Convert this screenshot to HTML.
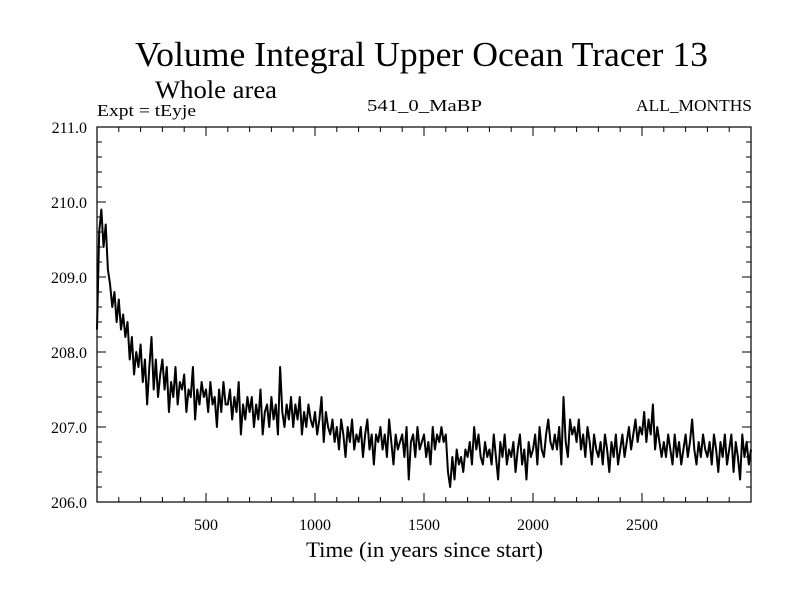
<!DOCTYPE html>
<html><head><meta charset="utf-8"><style>
body{margin:0;background:#fff}
svg{display:block;font-family:"Liberation Serif",serif}
</style></head><body>
<svg id="chart" width="800" height="600" viewBox="0 0 800 600">
<rect width="800" height="600" fill="#fff"/>
<text x="135" y="66" font-size="35" textLength="573" lengthAdjust="spacingAndGlyphs">Volume Integral Upper Ocean Tracer 13</text>
<text x="155" y="98" font-size="25" textLength="122" lengthAdjust="spacingAndGlyphs">Whole area</text>
<text x="97" y="116" font-size="17" textLength="99" lengthAdjust="spacingAndGlyphs">Expt = tEyje</text>
<text x="367" y="111" font-size="17" textLength="115" lengthAdjust="spacingAndGlyphs">541_0_MaBP</text>
<text x="636" y="111" font-size="17" textLength="116" lengthAdjust="spacingAndGlyphs">ALL_MONTHS</text>
<g id="axes"></g>
<path id="series" fill="none" stroke="#000" stroke-width="2" stroke-linejoin="round"/>
<rect x="97" y="127" width="654" height="375" fill="none" stroke="#000" stroke-width="1.2"/>
<text x="306" y="557" font-size="22" textLength="237" lengthAdjust="spacingAndGlyphs">Time (in years since start)</text>
</svg>
<script>
const xTicks=[500,1000,1500,2000,2500];
const yTicks=[206,207,208,209,210,211];
const yTickLabels=["206.0","207.0","208.0","209.0","210.0","211.0"];
const years=[];
const values=[
208.3,209.6,209.9,209.4,209.7,209.1,208.9,208.6,208.8,208.4,
208.7,208.3,208.5,208.2,208.4,207.9,208.2,207.7,208.0,207.8,
208.1,207.6,207.9,207.3,207.8,208.2,207.5,207.9,207.4,207.7,
207.9,207.5,207.8,207.2,207.6,207.4,207.8,207.3,207.6,207.5,
207.7,207.2,207.5,207.4,207.8,207.1,207.5,207.3,207.6,207.4,
207.5,207.2,207.6,207.3,207.4,207.0,207.5,207.2,207.6,207.3,
207.3,207.5,207.1,207.4,207.2,207.6,206.9,207.3,207.1,207.4,
207.2,207.4,207.0,207.3,207.1,207.5,206.9,207.2,207.3,207.0,
207.4,207.1,207.3,206.9,207.8,207.2,207.0,207.3,207.1,207.4,
207.0,207.3,207.1,207.4,206.9,207.2,207.0,207.3,207.1,207.0,
207.2,206.9,207.1,207.4,206.8,207.2,207.0,206.9,207.1,206.8,
207.0,206.7,207.1,206.9,206.6,207.0,206.8,207.1,206.7,206.9,
206.8,207.0,206.6,206.9,207.1,206.7,206.9,206.5,206.9,206.8,
207.0,206.7,206.9,206.6,207.1,206.8,206.5,206.9,206.7,206.8,
206.9,206.6,207.0,206.3,206.8,206.9,206.6,207.0,206.7,206.8,
206.9,206.6,206.8,206.5,207.0,206.7,206.9,206.8,207.0,206.8,
206.9,206.4,206.2,206.6,206.3,206.7,206.5,206.6,206.4,206.7,
206.6,206.8,206.5,207.0,206.7,206.9,206.6,206.5,206.8,206.6,
206.7,206.5,206.9,206.6,206.3,206.8,206.6,206.9,206.5,206.7,
206.6,206.8,206.4,206.7,206.9,206.5,206.7,206.3,206.8,206.6,
206.7,206.9,206.5,207.0,206.7,206.6,206.9,207.1,206.8,206.7,
206.9,206.7,207.0,206.5,207.4,206.8,206.6,207.1,206.9,207.0,
206.8,207.1,206.7,206.9,206.6,207.0,206.8,206.5,206.9,206.7,
206.6,206.8,206.5,206.9,206.7,206.4,206.8,206.6,206.9,206.5,
206.7,206.9,206.6,206.8,207.0,206.7,206.9,207.1,206.8,207.0,
206.9,207.2,206.8,207.1,206.9,207.3,206.7,207.0,206.8,206.6,
206.8,206.6,206.9,206.7,206.5,206.9,206.6,206.8,206.5,206.7,
206.9,206.6,206.8,207.1,206.7,206.5,206.8,206.6,206.9,206.7,
206.6,206.8,206.5,206.9,206.7,206.4,206.8,206.6,206.9,206.5,
206.7,206.9,206.4,206.8,206.6,206.3,206.9,206.6,206.8,206.5,
206.7];
for(let i=0;i<values.length;i++)years.push(i*10);
const L=97,R=751,T=127,B=502,X0=0,X1=3000,Y0=206,Y1=211;
const xs=v=>L+(v-X0)/(X1-X0)*(R-L);
const ys=v=>B-(v-Y0)/(Y1-Y0)*(B-T);
const NS="http://www.w3.org/2000/svg";
const ax=document.getElementById('axes');
function line(x1,y1,x2,y2,name){const l=document.createElementNS(NS,'line');
l.setAttribute('x1',x1);l.setAttribute('y1',y1);l.setAttribute('x2',x2);l.setAttribute('y2',y2);
l.setAttribute('stroke','#000');l.setAttribute('stroke-width','1');


ax.appendChild(l);}
function txt(x,y,s,anchor,name){const t=document.createElementNS(NS,'text');
t.setAttribute('x',x);t.setAttribute('y',y);t.setAttribute('font-size','16');t.setAttribute('text-anchor',anchor);t.textContent=s;


ax.appendChild(t);}
for(let v=100;v<X1;v+=100){const x=xs(v);const major=v%500===0;const len=major?9:5;
line(x,B,x,B-len,'x-tick');line(x,T,x,T+len,'x-tick-top');}
for(let v=Y0;v<=Y1+1e-9;v+=0.2){const y=ys(v);const major=Math.abs(v-Math.round(v))<1e-6;const len=major?9:5;
line(L,y,L+len,y,'y-tick');line(R,y,R-len,y,'y-tick-right');}
xTicks.forEach(v=>txt(xs(v),530,String(v),'middle','x-tick-label'));
yTicks.forEach((v,i)=>txt(87,ys(v)+6,yTickLabels[i],'end','y-tick-label'));
let d='';values.forEach((v,i)=>{d+=(i?'L':'M')+xs(years[i]).toFixed(2)+','+ys(v).toFixed(2);});
document.getElementById('series').setAttribute('d',d);
</script>
</body></html>
